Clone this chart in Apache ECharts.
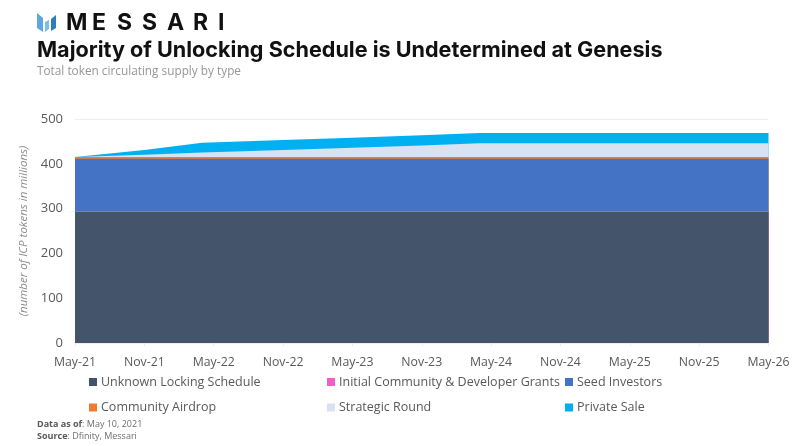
<!DOCTYPE html>
<html>
<head>
    <meta charset="utf-8">
    <title>Majority of Unlocking Schedule is Undetermined at Genesis</title>
    <script src="https://cdn.jsdelivr.net/npm/echarts@6/dist/echarts.min.js"></script>
    <style>
        html, body { margin: 0; padding: 0; background: #fff; }
    </style>
</head>
<body>
    <div id="main" style="width: 800px;height:446px;"></div>
    <script type="text/javascript">
        // months since May-21, only where the read-off curves change slope
        var months = [0, 6, 11, 18, 24, 30, 35, 60];
        var tickLabels = ['May-21', 'Nov-21', 'May-22', 'Nov-22', 'May-23', 'Nov-23', 'May-24', 'Nov-24', 'May-25', 'Nov-25', 'May-26'];

        var unknownLocking = [293, 293, 293, 293, 293, 293, 293, 293];
        var communityGrants = [1.5, 1.5, 1.5, 1.5, 1.5, 1.5, 1.5, 1.5];
        var seedInvestors = [117, 117, 117, 117, 117, 117, 117, 117];
        var communityAirdrop = [3.5, 3.5, 3.5, 3.5, 3.5, 3.5, 3.5, 3.5];
        var strategicRound = [0, 5, 10, 16, 21, 26, 31, 31];
        var privateSale = [0, 11, 22, 22, 22, 23, 23, 23];

        var logoLetters = ['M', 'E', 'S', 'S', 'A', 'R', 'I'];
        var logoLefts = [66, 92, 117, 142, 167, 193, 218];

        var font = '"Open Sans", sans-serif';
        var grey = '#595959';

        // stack option stacks on x when both axes are value axes, so add the layers up here
        var running = months.map(function () { return 0; });
        function area(name, values, color, z) {
            running = running.map(function (v, i) { return v + values[i]; });
            return {
                name: name,
                type: 'line',
                symbol: 'none',
                z: z,
                data: running.map(function (v, i) { return [months[i], v]; }),
                lineStyle: { width: 0 },
                itemStyle: { color: color },
                areaStyle: { color: color, opacity: 1 }
            };
        }

        function legendColumn(left, names) {
            return {
                left: left,
                top: 373,
                orient: 'vertical',
                icon: 'rect',
                itemWidth: 8,
                itemHeight: 8,
                itemGap: 7.5,
                padding: 0,
                selectedMode: false,
                data: names,
                textStyle: { fontFamily: font, fontSize: 12.5, color: grey, padding: [0, 0, 0, -1], lineHeight: 18 }
            };
        }

        var logoText = logoLetters.map(function (ch, i) {
            return { type: 'text', left: logoLefts[i], top: 12, style: { text: ch, fontFamily: 'Inter, sans-serif', fontWeight: 700, fontSize: 23, fill: '#111' } };
        });

        var myChart = echarts.init(document.getElementById('main'));
        var option = {
            animation: false,
            backgroundColor: '#fff',
            grid: { left: 75, right: 31.5, top: 119, bottom: 103 },
            legend: [
                legendColumn(89, ['Unknown Locking Schedule', 'Community Airdrop']),
                legendColumn(327, ['Initial Community & Developer Grants', 'Strategic Round']),
                legendColumn(565, ['Seed Investors', 'Private Sale'])
            ],
            xAxis: {
                type: 'value',
                min: 0,
                max: 60,
                interval: 6,
                splitLine: { show: false },
                axisLine: { show: false },
                axisTick: { show: true, length: 3, lineStyle: { color: '#ececec' } },
                axisLabel: {
                    fontFamily: font,
                    fontSize: 12.3,
                    color: grey,
                    margin: 13,
                    formatter: function (v) { return tickLabels[v / 6]; }
                }
            },
            yAxis: {
                type: 'value',
                min: 0,
                max: 500,
                interval: 100,
                name: '(number of ICP tokens in millions)',
                nameLocation: 'middle',
                nameGap: 40,
                nameTextStyle: { fontFamily: font, fontSize: 11.5, fontStyle: 'italic', color: '#8c8c8c' },
                splitLine: { lineStyle: { color: '#eeeeee' } },
                axisLine: { show: false },
                axisTick: { show: false },
                axisLabel: { fontFamily: font, fontSize: 13, color: grey, margin: 12 }
            },
            // painted tallest first, each lower layer covers the one above it
            series: [
                area('Unknown Locking Schedule', unknownLocking, '#44546A', 8),
                area('Initial Community & Developer Grants', communityGrants, '#F45DC3', 7),
                area('Seed Investors', seedInvestors, '#4472C4', 6),
                area('Community Airdrop', communityAirdrop, '#ED7D31', 5),
                area('Strategic Round', strategicRound, '#D9E2F3', 4),
                area('Private Sale', privateSale, '#00B0F0', 3)
            ],
            graphic: logoText.concat([
                // logo bars
                { type: 'polygon', shape: { points: [[37, 13], [43, 18], [43, 32], [37, 28]] }, style: { fill: '#5BA7E0' } },
                { type: 'polygon', shape: { points: [[45, 22], [49, 20], [49, 29], [45, 32]] }, style: { fill: '#7DBDEB' } },
                { type: 'polygon', shape: { points: [[51, 19], [56, 15], [56, 28], [51, 31]] }, style: { fill: '#2F7DC1' } },
                { type: 'text', left: 37, top: 39, style: { text: 'Majority of Unlocking Schedule is Undetermined at Genesis', fontFamily: 'Inter, sans-serif', fontWeight: 700, fontSize: 21.6, fill: '#111' } },
                { type: 'text', left: 37, top: 66, style: { text: 'Total token circulating supply by type', fontFamily: font, fontSize: 11.8, fill: '#969696' } },
                {
                    type: 'text', left: 37, top: 420,
                    style: {
                        rich: {
                            b: { fontFamily: font, fontSize: 9, fontWeight: 700, fill: '#595959', lineHeight: 12 },
                            n: { fontFamily: font, fontSize: 9, fill: '#6e6e6e', lineHeight: 12 }
                        },
                        text: '{b|Data as of}{n|: May 10, 2021}\n{b|Source}{n|: Dfinity, Messari}'
                    }
                }
            ])
        };
        myChart.setOption(option);
    </script>
</body>
</html>
